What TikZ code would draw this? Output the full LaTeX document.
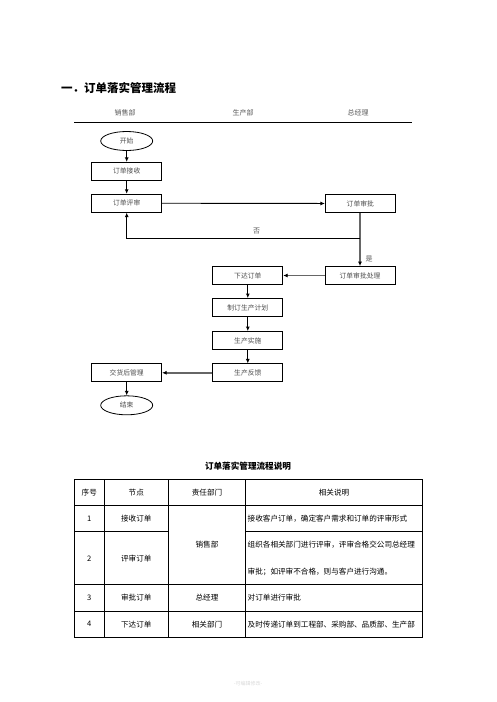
\documentclass[tikz,border=0pt]{standalone}
\usepackage{fontspec}
\setmainfont{Noto Sans CJK SC}
\usetikzlibrary{arrows.meta,shapes.geometric}
\begin{document}
\begin{tikzpicture}[x=1pt,y=-1pt,
  flowbox/.style={draw=black,line width=0.8pt,minimum width=70pt,minimum height=18pt,inner sep=0pt,text=black!70,font=\fontsize{6.8}{8}\selectfont},
  flowend/.style={draw=black,line width=0.8pt,ellipse,minimum width=52pt,minimum height=19pt,inner sep=0pt,text=black!70,font=\fontsize{6.8}{8}\selectfont},
  arr/.style={line width=0.9pt,-{Latex[length=4.5pt,width=4pt]}},
  garr/.style={draw=black!60,line width=1.4pt,-{Latex[length=4.5pt,width=4pt,color=black]}},
  glin/.style={draw=black!60,line width=1.4pt},
  hdr/.style={text=black!65,font=\fontsize{7}{8}\selectfont,inner sep=0pt},
  tcell/.style={font=\fontsize{7.6}{8}\selectfont,inner sep=0pt},
  tl/.style={line width=0.9pt}]
\useasboundingbox (0,0) rectangle (496,702);
% title
\node[anchor=west,font=\fontsize{11.5}{13}\bfseries\selectfont,inner sep=0pt] (title) at (61,88) {一．订单落实管理流程};
% header
\node[hdr] (h1) at (125,113) {销售部};
\node[hdr] (h2) at (243,113) {生产部};
\node[hdr] (h3) at (358,113) {总经理};
\coordinate (hl) at (74,122.5);
\coordinate (hr) at (412,122.5);
\draw[line width=0.9pt] (hl) -- (hr);
% flow nodes
\node[flowend] (start) at (126.7,141) {开始};
\node[flowbox] (recv) at (126.7,171.3) {订单接收};
\node[flowbox] (review) at (126.7,203.2) {订单评审};
\node[flowbox] (approve) at (360.3,203.5) {订单审批};
\node[flowbox] (proc) at (360,275.5) {订单审批处理};
\node[flowbox] (issue) at (247.8,275.5) {下达订单};
\node[flowbox] (plan) at (247.8,307.5) {制订生产计划};
\node[flowbox] (impl) at (247.8,340.5) {生产实施};
\node[flowbox] (feed) at (247.8,372.8) {生产反馈};
\node[flowbox] (after) at (126.7,372.8) {交货后管理};
\node[flowend] (end) at (126.7,405.3) {结束};
% connectors
\draw[arr] (start) -- (recv);
\draw[arr] (recv) -- (review);
\draw[arr] (review) -- (approve);
\coordinate (split) at (360,238.5);
\coordinate (back) at (126.7,238.5);
\draw[glin] (approve.south -| split) -- (split);
\draw[garr] (split) -- (proc.north);
\draw[line width=0.9pt] (split) -- (back);
\draw[arr] (back) -- (review.south);
\node[hdr] (no) at (256.7,231.5) {否};
\node[hdr] (yes) at (369,258.5) {是};
\draw[garr] (proc) -- (issue);
\draw[arr] (issue) -- (plan);
\draw[arr] (plan) -- (impl);
\draw[arr] (impl) -- (feed);
\draw[garr] (feed) -- (after);
\draw[arr] (after) -- (end);
% table title
\node[font=\fontsize{8.6}{10}\bfseries\selectfont,inner sep=0pt] (ttitle) at (248,466.5) {订单落实管理流程说明};
% table grid
\draw[tl] (74.3,479.3) rectangle (422.3,637.3);
\draw[tl] (104.3,479.3) -- (104.3,637.3);
\draw[tl] (168.3,479.3) -- (168.3,637.3);
\draw[tl] (245.7,479.3) -- (245.7,637.3);
\draw[tl] (74.3,505) -- (422.3,505);
\draw[tl] (74.3,531.7) -- (168.3,531.7);
\draw[tl] (245.7,531.7) -- (422.3,531.7);
\draw[tl] (74.3,584.3) -- (422.3,584.3);
\draw[tl] (74.3,611) -- (422.3,611);
% header row
\node[tcell] (c00) at (89.3,492.2) {序号};
\node[tcell] (c01) at (136.3,492.2) {节点};
\node[tcell] (c02) at (207,492.2) {责任部门};
\node[tcell] (c03) at (334,492.2) {相关说明};
% row 1
\node[tcell] (c10) at (89.3,518.5) {1};
\node[tcell] (c11) at (136.3,518.5) {接收订单};
\node[tcell,anchor=west] (c13) at (247.5,518.5) {接收客户订单，确定客户需求和订单的评审形式};
% merged
\node[tcell] (c12) at (207,544.5) {销售部};
% row 2
\node[tcell] (c20) at (89.3,558.3) {2};
\node[tcell] (c21) at (136.3,558.3) {评审订单};
\node[tcell,anchor=west] (c23a) at (247.5,544.5) {组织各相关部门进行评审，评审合格交公司总经理};
\node[tcell,anchor=west] (c23b) at (247.5,571.7) {审批；如评审不合格，则与客户进行沟通。};
% row 3
\node[tcell] (c30) at (89.3,597.7) {3};
\node[tcell] (c31) at (136.3,597.7) {审批订单};
\node[tcell] (c32) at (207,597.7) {总经理};
\node[tcell,anchor=west] (c33) at (247.5,597.7) {对订单进行审批};
% row 4
\node[tcell] (c40) at (89.3,624.2) {4};
\node[tcell] (c41) at (136.3,624.2) {下达订单};
\node[tcell] (c42) at (207,624.2) {相关部门};
\node[tcell,anchor=west] (c43) at (247.5,624.2) {及时传递订单到工程部、采购部、品质部、生产部};
% footer
\node[text=black!15,font=\fontsize{5}{6}\selectfont,inner sep=0pt] (foot) at (248,684) {-可编辑修改-};
\end{tikzpicture}
\end{document}
